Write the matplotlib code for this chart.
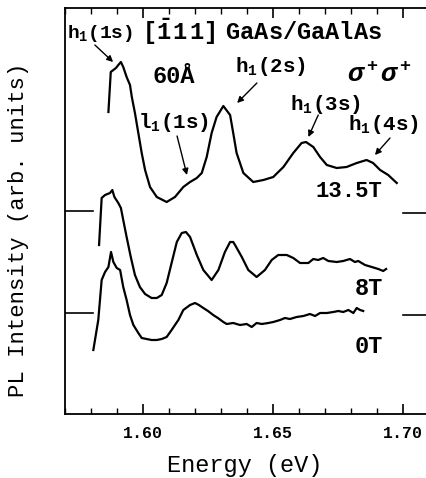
"""PL spectra of a 60 A [-111] GaAs/GaAlAs well at 0, 8 and 13.5 T (sigma+ sigma+)."""
import matplotlib
matplotlib.use("Agg")
import matplotlib.pyplot as plt

# --- data (energy in eV, intensity in arb. units above each baseline)
energy_135 = [1.5867, 1.5876, 1.5886, 1.5896, 1.5905, 1.5915, 1.5924, 1.5937, 1.5950,
              1.5957, 1.5969, 1.5982, 1.5995, 1.6008, 1.6027, 1.6053, 1.6091, 1.6123,
              1.6155, 1.6181, 1.6207, 1.6226, 1.6245, 1.6264, 1.6283, 1.6309, 1.6335,
              1.6347, 1.6360, 1.6386, 1.6424, 1.6463, 1.6501, 1.6540, 1.6578, 1.6610,
              1.6627, 1.6655, 1.6681, 1.6707, 1.6745, 1.6783, 1.6822, 1.6860, 1.6885,
              1.6912, 1.6943, 1.6976]
int_135 = [99, 139, 141, 143, 146, 149, 144, 134, 126, 114, 98, 78, 58, 41, 24, 14, 9, 14,
           24, 29, 33, 38, 54, 78, 94, 105, 96, 78, 58, 38, 29, 31, 34, 44, 58, 68, 69, 64,
           54, 46, 43, 44, 48, 51, 48, 41, 36, 28]

energy_8 = [1.5831, 1.5841, 1.5854, 1.5873, 1.5882, 1.5890, 1.5905, 1.5915, 1.5924, 1.5937,
            1.5953, 1.5969, 1.5988, 1.6008, 1.6033, 1.6053, 1.6072, 1.6091, 1.6110, 1.6130,
            1.6149, 1.6165, 1.6181, 1.6207, 1.6232, 1.6264, 1.6290, 1.6315, 1.6335, 1.6347,
            1.6354, 1.6380, 1.6405, 1.6437, 1.6469, 1.6495, 1.6520, 1.6553, 1.6578, 1.6604,
            1.6636, 1.6655, 1.6674, 1.6693, 1.6713, 1.6745, 1.6770, 1.6796, 1.6815, 1.6828,
            1.6854, 1.6880, 1.6905, 1.6924, 1.6935]
int_8 = [68, 115, 118, 120, 123, 116, 110, 105, 93, 76, 56, 38, 26, 19, 15, 15, 18, 30, 50,
         71, 80, 81, 76, 58, 43, 33, 43, 61, 71, 71, 68, 56, 43, 36, 43, 53, 58, 58, 55, 50,
         50, 54, 53, 55, 52, 51, 52, 54, 51, 52, 48, 46, 44, 42, 44]

energy_0 = [1.5809, 1.5828, 1.5841, 1.5854, 1.5867, 1.5877, 1.5886, 1.5899, 1.5912, 1.5924,
            1.5937, 1.5950, 1.5963, 1.5982, 1.5995, 1.6014, 1.6033, 1.6053, 1.6072, 1.6091,
            1.6110, 1.6136, 1.6155, 1.6181, 1.6200, 1.6215, 1.6232, 1.6250, 1.6270, 1.6288,
            1.6309, 1.6322, 1.6347, 1.6373, 1.6399, 1.6418, 1.6437, 1.6457, 1.6482, 1.6501,
            1.6527, 1.6546, 1.6565, 1.6591, 1.6617, 1.6642, 1.6662, 1.6681, 1.6707, 1.6732,
            1.6751, 1.6770, 1.6790, 1.6809, 1.6822, 1.6835, 1.6847]
int_0 = [64, 94, 134, 142, 147, 162, 152, 146, 144, 127, 114, 99, 89, 81, 76, 75, 74, 74,
         75, 77, 84, 94, 104, 109, 111, 109, 106, 103, 99, 96, 92, 90, 91, 89, 90, 87, 91,
         90, 91, 92, 94, 96, 95, 97, 98, 100, 98, 101, 101, 102, 103, 102, 104, 101, 106,
         104, 103]

x_ticks = [1.60, 1.65, 1.70]
x_tick_labels = ["1.60", "1.65", "1.70"]

# vertical offset of each trace
OFFSETS = {"13.5T": 203, "8T": 101, "0T": 0}
FONT = "Liberation Mono"

plt.rcParams["font.family"] = [FONT, "DejaVu Sans"]
plt.rcParams["font.weight"] = "bold"
plt.rcParams["mathtext.fontset"] = "custom"
plt.rcParams["mathtext.rm"] = FONT + ":bold"
plt.rcParams["mathtext.it"] = FONT + ":bold:italic"
plt.rcParams["mathtext.bf"] = FONT + ":bold"

fig = plt.figure(figsize=(4.27, 4.78), dpi=100)
ax = fig.add_axes([65 / 427, 64 / 478, 364 / 427, 406 / 478])

for e, i, key in [(energy_135, int_135, "13.5T"), (energy_8, int_8, "8T"), (energy_0, int_0, "0T")]:
    ax.plot(e, [v + OFFSETS[key] for v in i], color="k", lw=1.6)

# baseline markers on both sides
for y in (203, 101):
    ax.plot([1.570, 1.5807], [y, y], color="k", lw=1.2)
    ax.plot([1.700, 1.712], [y - 2, y - 2], color="k", lw=1.2)

ax.set_xlim(1.570, 1.710)
ax.set_ylim(0, 406)
ax.set_xticks(x_ticks)
ax.set_xticklabels(x_tick_labels)
ax.set_xticks([1.57 + 0.01 * k for k in range(15)], minor=True)
ax.set_yticks([])
ax.tick_params(axis="x", which="both", direction="in", top=True, labelsize=12, pad=9)
ax.tick_params(axis="x", which="major", length=7, width=1.2)
ax.tick_params(axis="x", which="minor", length=4, width=1)
for s in ax.spines.values():
    s.set_linewidth(1.3)

ax.set_xlabel("Energy (eV)", fontsize=17)
ax.xaxis.set_label_coords(0.495, -0.098)
ax.set_ylabel("PL Intensity (arb. units)", fontsize=16)
ax.yaxis.set_label_coords(-0.098, 0.453)

# annotations
txt = dict(va="baseline", ha="left")
ax.text(1.5708, 376, r"$\mathrm{h_1(1s)}$", fontsize=14, **txt)
ax.text(1.5996, 374, r"$\mathrm{[\bar{1}\,1\,1]\;\;GaAs/GaAlAs}$", fontsize=17, **txt)
ax.text(1.6038, 331, "60Å", fontsize=17, **txt)
ax.text(1.6354, 342, r"$\mathrm{h_1(2s)}$", fontsize=15, **txt)
ax.text(1.6785, 332, r"$\sigma^+\sigma^+$", fontsize=19, **txt)
ax.text(1.6565, 304, r"$\mathrm{h_1(3s)}$", fontsize=15, **txt)
ax.text(1.5981, 286, r"$\mathrm{l_1(1s)}$", fontsize=15, **txt)
ax.text(1.6788, 284, r"$\mathrm{h_1(4s)}$", fontsize=15, **txt)
ax.text(1.6665, 217, "13.5T", fontsize=16, **txt)
ax.text(1.6815, 119, "8T", fontsize=17, **txt)
ax.text(1.6815, 61, "0T", fontsize=17, **txt)

arrows = [((1.5815, 369), (1.5885, 352)),
          ((1.6438, 331), (1.6362, 311)),
          ((1.6131, 278), (1.6169, 239)),
          ((1.6674, 299), (1.6636, 277)),
          ((1.6950, 276), (1.6892, 259))]
for start, tip in arrows:
    ax.annotate("", xy=tip, xytext=start,
                arrowprops=dict(arrowstyle="-|>", color="k", lw=1, mutation_scale=9,
                                shrinkA=0, shrinkB=0))

fig.savefig("out.png", dpi=100)
